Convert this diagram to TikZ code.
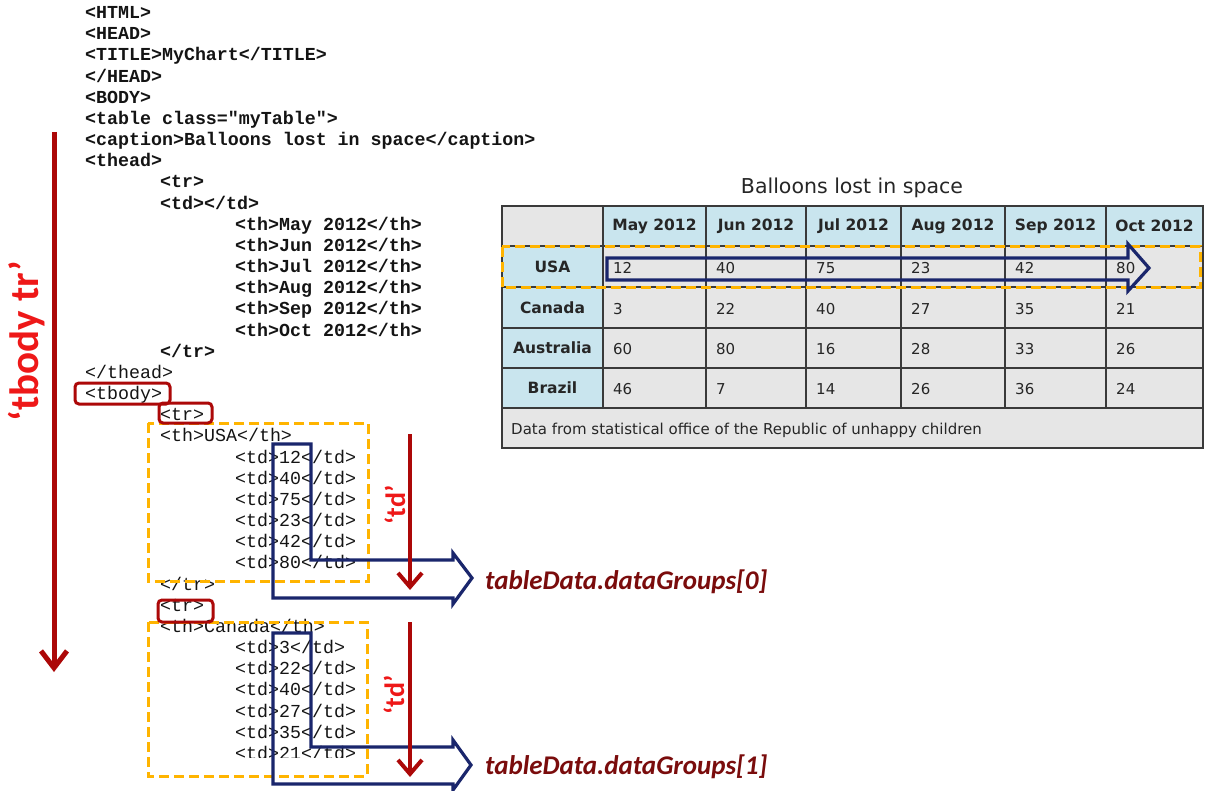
\documentclass[tikz,border=0pt]{standalone}
\usepackage{fontspec}
\setmainfont{DejaVu Sans}
\newfontfamily\codefont{Liberation Mono}
\newfontfamily\lblfont{Carlito}
\usetikzlibrary{arrows.meta}
\definecolor{frameRed}{RGB}{172,8,8}
\definecolor{lblRed}{RGB}{238,24,24}
\definecolor{grpRed}{RGB}{122,12,12}
\definecolor{navyArr}{RGB}{26,38,108}
\definecolor{orangeDash}{RGB}{255,180,0}
\definecolor{cellBlue}{RGB}{201,229,238}
\definecolor{cellGray}{RGB}{230,230,230}
\definecolor{gridGray}{RGB}{58,58,58}
\tikzset{
  codetext/.style={anchor=base west, inner sep=0pt, font=\codefont\fontsize{18.3}{20}\selectfont, text=black!92},
  codebold/.style={codetext, font=\codefont\bfseries\fontsize{18.3}{20}\selectfont},
  hdrtext/.style={inner sep=0pt, font=\bfseries\fontsize{15.5}{17}\selectfont, text=black!85},
  datatext/.style={anchor=west, inner sep=0pt, font=\fontsize{15}{17}\selectfont, text=black!85},
  redframe/.style={draw=frameRed, line width=3pt, rounded corners=4pt},
  orangebox/.style={draw=orangeDash, line width=3pt, dash pattern=on 10pt off 5pt},
  navyshape/.style={draw=navyArr, line width=3.2pt, line join=miter},
  redarrow/.style={draw=frameRed, line width=4pt, -{Straight Barb[length=14pt,width=24pt]}},
  bigarrow/.style={draw=frameRed, line width=5pt, -{Straight Barb[length=17pt,width=26pt]}},
  rotlabel/.style={rotate=90, inner sep=0pt, text=lblRed, font=\lblfont\bfseries},
  grouplabel/.style={anchor=west, inner sep=0pt, text=grpRed, font=\lblfont\bfseries\itshape\fontsize{27}{30}\selectfont},
}
\newcommand\cl[3]{\node[codetext] (c#1) at (#2,{18.5+21.17*(#1-1)}) {#3};}
\newcommand\clb[3]{\node[codebold] (c#1) at (#2,{18.5+21.17*(#1-1)}) {#3};}
\begin{document}
\begin{tikzpicture}[x=1pt,y=-1pt]
\useasboundingbox (0,0) rectangle (1207,791);
\fill[white] (0,0) rectangle (1207,791);
% ---------------- code ----------------
\clb{1}{85}{<HTML>}
\clb{2}{85}{<HEAD>}
\clb{3}{85}{<TITLE>MyChart</TITLE>}
\clb{4}{85}{</HEAD>}
\clb{5}{85}{<BODY>}
\clb{6}{85}{<table class="myTable">}
\clb{7}{85}{<caption>Balloons lost in space</caption>}
\clb{8}{85}{<thead>}
\clb{9}{160}{<tr>}
\clb{10}{160}{<td></td>}
\clb{11}{235}{<th>May 2012</th>}
\clb{12}{235}{<th>Jun 2012</th>}
\clb{13}{235}{<th>Jul 2012</th>}
\clb{14}{235}{<th>Aug 2012</th>}
\clb{15}{235}{<th>Sep 2012</th>}
\clb{16}{235}{<th>Oct 2012</th>}
\clb{17}{160}{</tr>}
\cl{18}{85}{</thead>}
\cl{19}{85}{<tbody>}
\cl{20}{160}{<tr>}
\cl{21}{160}{<th>USA</th>}
\cl{22}{235}{<td>12</td>}
\cl{23}{235}{<td>40</td>}
\cl{24}{235}{<td>75</td>}
\cl{25}{235}{<td>23</td>}
\cl{26}{235}{<td>42</td>}
\cl{27}{235}{<td>80</td>}
\cl{28}{160}{</tr>}
\cl{29}{160}{<tr>}
\cl{30}{160}{<th>Canada</th>}
\cl{31}{235}{<td>3</td>}
\cl{32}{235}{<td>22</td>}
\cl{33}{235}{<td>40</td>}
\cl{34}{235}{<td>27</td>}
\cl{35}{235}{<td>35</td>}
\begin{scope}
  \clip (0,0) rectangle (1207,757);
  \cl{36}{235}{<td>21</td>}
\end{scope}
% orange dashed groups
\draw[orangebox] (148,423) rectangle (368,581);
\draw[orangebox] (148,622) rectangle (367,776);
% red frames
\draw[redframe] (75,383) rectangle (170,404);
\draw[redframe] (159,403) rectangle (212,423);
\draw[redframe] (158,600) rectangle (213,622);
% navy L arrows
\draw[navyshape] (273,444) -- (311,444) -- (311,560) -- (453,560) -- (453,553) -- (472,578) -- (453,604) -- (453,598) -- (273,598) -- cycle;
\draw[navyshape] (273,633) -- (311,633) -- (311,747) -- (453,747) -- (453,740) -- (471,765) -- (453,790) -- (453,784) -- (273,784) -- cycle;
% red arrows
\coordinate (bigS) at (54,132);
\coordinate (bigE) at (54,672);
\draw[bigarrow] (bigS) -- (bigE);
\coordinate (td1S) at (410,434);
\coordinate (td1E) at (410,590);
\draw[redarrow] (td1S) -- (td1E);
\coordinate (td2S) at (410,622);
\coordinate (td2E) at (410,777);
\draw[redarrow] (td2S) -- (td2E);
% labels
\node[rotlabel, font=\lblfont\bfseries\fontsize{41}{44}\selectfont] (lbltr) at (27,341) {‘tbody tr’};
\node[rotlabel, font=\lblfont\bfseries\fontsize{28}{30}\selectfont] (lbltd1) at (395,505) {‘td’};
\node[rotlabel, font=\lblfont\bfseries\fontsize{28}{30}\selectfont] (lbltd2) at (394,695) {‘td’};
\node[grouplabel] (grp0) at (485,582) {tableData.dataGroups[0]};
\node[grouplabel] (grp1) at (485,767) {tableData.dataGroups[1]};
% ---------------- table ----------------
\node[inner sep=0pt, font=\fontsize{20.5}{23}\selectfont, text=black!85] (title) at (852,188) {Balloons lost in space};
\fill[cellGray] (502,206) rectangle (603,246);
\fill[cellBlue] (603,206) rectangle (1203,246);
\fill[cellBlue] (502,246) rectangle (603,408);
\fill[cellGray] (603,246) rectangle (1203,408);
\fill[cellGray] (502,408) rectangle (1203,448);
\begin{scope}[draw=gridGray, line width=1.5pt]
  \draw (502,206) rectangle (1203,448);
  \foreach \yy in {246,287,328,368,408} { \draw (502,\yy) -- (1203,\yy); }
  \foreach \xx in {603,706,806,901,1005,1106} { \draw (\xx,206) -- (\xx,408); }
\end{scope}
\node[hdrtext] (h1) at (654.5,226) {May 2012};
\node[hdrtext] (h2) at (756,226) {Jun 2012};
\node[hdrtext] (h3) at (853.5,226) {Jul 2012};
\node[hdrtext] (h4) at (953,226) {Aug 2012};
\node[hdrtext] (h5) at (1055.5,226) {Sep 2012};
\node[hdrtext] (h6) at (1154.5,226) {Oct 2012};
\node[hdrtext] (r1) at (552.5,267) {USA};
\node[hdrtext] (r2) at (552.5,308) {Canada};
\node[hdrtext] (r3) at (552.5,348) {Australia};
\node[hdrtext] (r4) at (552.5,388) {Brazil};
\foreach \vals [count=\r] in {{12,40,75,23,42,80},{3,22,40,27,35,21},{60,80,16,28,33,26},{46,7,14,26,36,24}} {
  \foreach \v [count=\c] in \vals {
    \pgfmathsetmacro\xpos{{603,706,806,901,1005,1106}[\c-1]+10}
    \pgfmathsetmacro\ypos{{268,309,349,389}[\r-1]}
    \node[datatext] (d\r-\c) at (\xpos,\ypos) {\v};
  }
}
\node[datatext, font=\fontsize{15}{17}\selectfont] (foot) at (511,430) {Data from statistical office of the Republic of unhappy children};
\draw[orangebox] (502,247) rectangle (1200,288);
\draw[navyshape] (607,258) -- (1128,258) -- (1128,244) -- (1149,268) -- (1128,291) -- (1128,280) -- (607,280) -- cycle;
\end{tikzpicture}
\end{document}
